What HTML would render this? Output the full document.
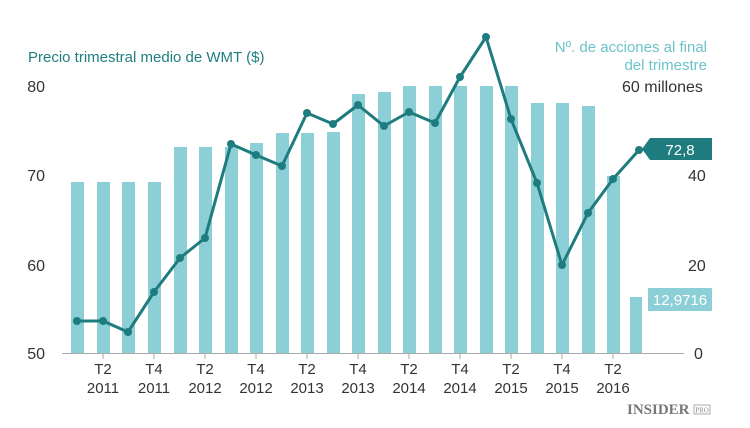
<!DOCTYPE html>
<html><head><meta charset="utf-8"><style>
body{margin:0;background:#fff;}
svg{display:block;font-family:"Liberation Sans",sans-serif;}
</style></head><body>
<svg width="750" height="428" viewBox="0 0 750 428">
<rect width="750" height="428" fill="#fff"/>
<text x="28" y="62" font-size="15" fill="#1f7f80">Precio trimestral medio de WMT ($)</text>
<text x="707" y="52" font-size="15" fill="#6cc3ca" text-anchor="end">Nº. de acciones al final</text>
<text x="707" y="70" font-size="15" fill="#6cc3ca" text-anchor="end">del trimestre</text>
<g font-size="16" fill="#333">
<text x="45" y="92" text-anchor="end">80</text>
<text x="45" y="181" text-anchor="end">70</text>
<text x="45" y="271" text-anchor="end">60</text>
<text x="45" y="359" text-anchor="end">50</text>
<text x="622" y="92">60 millones</text>
<text x="688" y="181">40</text>
<text x="688" y="271">20</text>
<text x="694" y="359">0</text>
</g>
<g fill="#8dcfd6">
<rect x="71" y="182" width="13" height="171"/>
<rect x="97" y="182" width="13" height="171"/>
<rect x="122" y="182" width="13" height="171"/>
<rect x="148" y="182" width="13" height="171"/>
<rect x="174" y="147" width="13" height="206"/>
<rect x="199" y="147" width="13" height="206"/>
<rect x="225" y="147" width="13" height="206"/>
<rect x="250" y="143" width="13" height="210"/>
<rect x="276" y="133" width="13" height="220"/>
<rect x="301" y="133" width="13" height="220"/>
<rect x="327" y="132" width="13" height="221"/>
<rect x="352" y="94" width="13" height="259"/>
<rect x="378" y="92" width="13" height="261"/>
<rect x="403" y="86" width="13" height="267"/>
<rect x="429" y="86" width="13" height="267"/>
<rect x="454" y="86" width="13" height="267"/>
<rect x="480" y="86" width="13" height="267"/>
<rect x="505" y="86" width="13" height="267"/>
<rect x="531" y="103" width="13" height="250"/>
<rect x="556" y="103" width="13" height="250"/>
<rect x="582" y="106" width="13" height="247"/>
<rect x="607" y="176" width="13" height="177"/>
<rect x="630" y="297" width="12" height="56"/>
</g>
<line x1="62" y1="353.5" x2="684" y2="353.5" stroke="#aaa" stroke-width="1"/>
<g stroke="#aaa" stroke-width="1">
<line x1="103" y1="354" x2="103" y2="359"/><line x1="154" y1="354" x2="154" y2="359"/><line x1="205" y1="354" x2="205" y2="359"/><line x1="256" y1="354" x2="256" y2="359"/><line x1="307" y1="354" x2="307" y2="359"/><line x1="358" y1="354" x2="358" y2="359"/><line x1="409" y1="354" x2="409" y2="359"/><line x1="460" y1="354" x2="460" y2="359"/><line x1="511" y1="354" x2="511" y2="359"/><line x1="562" y1="354" x2="562" y2="359"/><line x1="613" y1="354" x2="613" y2="359"/>
</g>
<polyline fill="none" stroke="#1f7c7e" stroke-width="3" stroke-linejoin="round" points="77,321 103,321 128,332 154,292 180,258 205,238 231,144 256,155 282,166 307,113 333,124 358,105 384,126 409,112 435,123 460,77 486,37 511,119 537,183 562,265 588,213 613,179 639,150"/>
<g fill="#1f7c7e">
<circle cx="77" cy="321" r="4"/><circle cx="103" cy="321" r="4"/><circle cx="128" cy="332" r="4"/><circle cx="154" cy="292" r="4"/><circle cx="180" cy="258" r="4"/><circle cx="205" cy="238" r="4"/><circle cx="231" cy="144" r="4"/><circle cx="256" cy="155" r="4"/><circle cx="282" cy="166" r="4"/><circle cx="307" cy="113" r="4"/><circle cx="333" cy="124" r="4"/><circle cx="358" cy="105" r="4"/><circle cx="384" cy="126" r="4"/><circle cx="409" cy="112" r="4"/><circle cx="435" cy="123" r="4"/><circle cx="460" cy="77" r="4"/><circle cx="486" cy="37" r="4"/><circle cx="511" cy="119" r="4"/><circle cx="537" cy="183" r="4"/><circle cx="562" cy="265" r="4"/><circle cx="588" cy="213" r="4"/><circle cx="613" cy="179" r="4"/><circle cx="639" cy="150" r="4"/>
</g>
<path d="M650,138 H712 V160 H650 L642,149 Z" fill="#1f7c7e"/>
<text x="680" y="155" font-size="15" fill="#fff" text-anchor="middle">72,8</text>
<path d="M648,288 H712 V311 H648 Z" fill="#8dcfd6"/>
<text x="680" y="305" font-size="15" fill="#fff" text-anchor="middle">12,9716</text>
<g font-size="15" fill="#333" text-anchor="middle">
<text x="103" y="374">T2</text><text x="103" y="393">2011</text>
<text x="154" y="374">T4</text><text x="154" y="393">2011</text>
<text x="205" y="374">T2</text><text x="205" y="393">2012</text>
<text x="256" y="374">T4</text><text x="256" y="393">2012</text>
<text x="307" y="374">T2</text><text x="307" y="393">2013</text>
<text x="358" y="374">T4</text><text x="358" y="393">2013</text>
<text x="409" y="374">T2</text><text x="409" y="393">2014</text>
<text x="460" y="374">T4</text><text x="460" y="393">2014</text>
<text x="511" y="374">T2</text><text x="511" y="393">2015</text>
<text x="562" y="374">T4</text><text x="562" y="393">2015</text>
<text x="613" y="374">T2</text><text x="613" y="393">2016</text>
</g>
<text x="627" y="414" font-size="15" font-weight="bold" fill="#777" font-family="Liberation Serif,serif">INSIDER</text>
<rect x="694" y="405" width="16" height="9" fill="none" stroke="#999" stroke-width="0.8"/>
<text x="702" y="412.5" font-size="7" fill="#888" text-anchor="middle" font-family="Liberation Serif,serif">PRO</text>
</svg>
</body></html>
